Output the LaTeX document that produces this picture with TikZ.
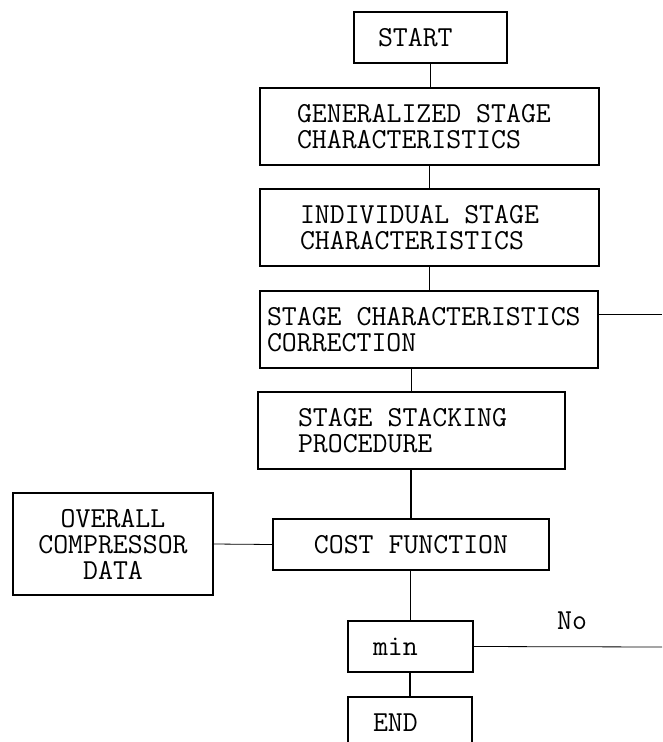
\documentclass[tikz,border=0pt]{standalone}
\usepackage{tikz}
\usetikzlibrary{calc}
\newcommand{\boxfont}{\fontsize{29}{26}\selectfont\ttfamily}

\begin{document}
\begin{tikzpicture}[x=1pt, y=-1pt,
  box/.style={draw, line width=1.3pt, font=\boxfont, align=flush left,
    inner ysep=0pt, minimum height=51pt},
  tall/.style={box, minimum height=77pt},
  link/.style={line width=1.1pt},
  exit/.style={line width=0.8pt}]
  \useasboundingbox (0,0) rectangle (662,742);
  \clip (0,0) rectangle (662,742);
  % Main column
  \node[box, text width=105pt, inner xsep=24pt] (start) at (430.5,37.5) {START};
  \node[tall, text width=265pt, inner xsep=37pt] (gen) at (429.5,126.5)
    {GENERALIZED STAGE\\CHARACTERISTICS};
  \node[tall, text width=259pt, inner xsep=40pt] (ind) at (429.5,227.5)
    {INDIVIDUAL STAGE\\CHARACTERISTICS};
  \node[tall, text width=324pt, inner xsep=7pt] (corr) at (429,329.5)
    {STAGE CHARACTERISTICS\\CORRECTION};
  \node[tall, text width=227pt, inner xsep=40pt] (stack) at (411.5,430.5)
    {STAGE STACKING\\PROCEDURE};
  \node[box, align=center, minimum width=276pt] (cost) at (411,544.5)
    {COST FUNCTION};
  \node[box, text width=75pt, inner xsep=25pt] (min) at (410.5,646.5) {min};
  \node[box, text width=74pt, inner xsep=25pt] (end) at (410,722.5) {END};
  % Side input
  \node[box, align=center, minimum width=200pt, minimum height=102pt]
    (data) at (113,544) {OVERALL\\COMPRESSOR\\DATA};
  % Label
  \node[font=\boxfont] (lblno) at (572,621) {No};
  % Exits to the right
  \coordinate (corrout) at (662,314);
  \coordinate (minout) at (662,647);
  % Connectors
  \draw[link] (start.south) -- (start.south |- gen.north);
  \draw[link] (gen.south) -- (gen.south |- ind.north);
  \draw[link] (ind.south) -- (ind.south |- corr.north);
  \draw[link] (stack.north) -- (stack.north |- corr.south);
  \draw[link] (cost.north) -- (cost.north |- stack.south);
  \draw[link] (min.north) -- (min.north |- cost.south);
  \draw[link] (end.north) -- (end.north |- min.south);
  \draw[exit] (data.east) -- (cost.west);
  \draw[exit] (corr.east |- corrout) -- (corrout);
  \draw[exit] (min.east) -- (minout);
\end{tikzpicture}
\end{document}
